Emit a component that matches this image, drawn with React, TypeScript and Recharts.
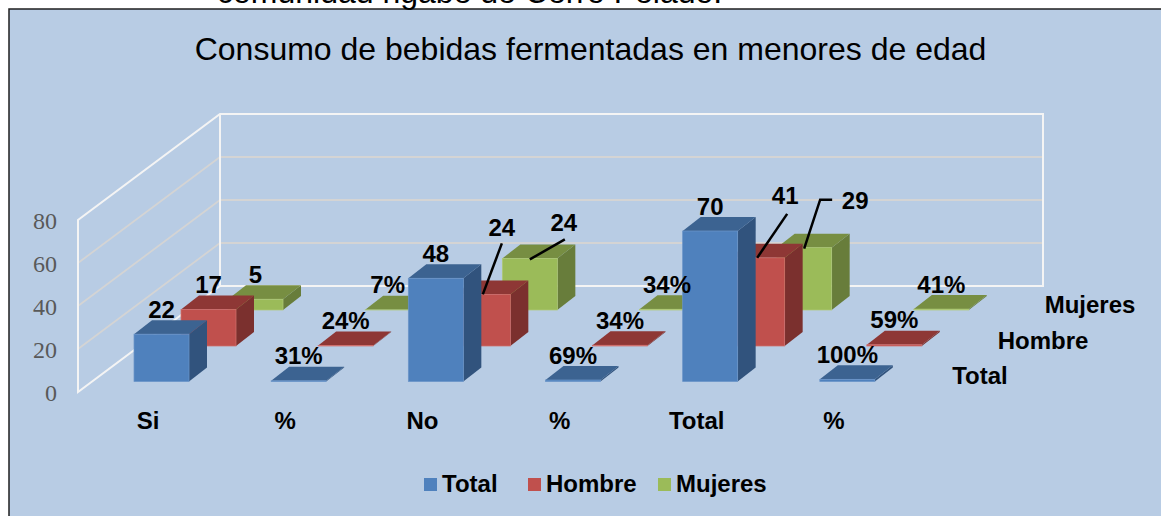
import React from "react";
import { ComposedChart, Bar, XAxis, YAxis, LabelList, Legend, Customized } from "recharts";

const categories = ["Si", "%", "No", "%", "Total", "%"];
const totalValues = [22, 0.31, 48, 0.69, 70, 1];
const hombreValues = [17, 0.24, 24, 0.34, 41, 0.59];
const mujeresValues = [5, 0.07, 24, 0.34, 29, 0.41];
const totalLabels = ["22", "31%", "48", "69%", "70", "100%"];
const hombreLabels = ["17", "24%", "24", "34%", "41", "59%"];
const mujeresLabels = ["5", "7%", "24", "34%", "29", "41%"];
const yTicks = [0, 20, 40, 60, 80];
const titleText = "Consumo de bebidas fermentadas en menores de edad";
const clippedCaption = "comunidad ngäbe de Cerro Pelado.";

const data = categories.map((c, i) => ({
  category: c,
  Total: totalValues[i],
  Hombre: hombreValues[i],
  Mujeres: mujeresValues[i],
  totalLabel: totalLabels[i],
  hombreLabel: hombreLabels[i],
  mujeresLabel: mujeresLabels[i],
}));

const W = 1161, H = 516;
const PLOT_L = 78, PLOT_T = 220, PLOT_W = 823, PLOT_H = 172;
const WALL_DX = 142, WALL_DY = -106, WALL_RIGHT = 1043;
const DEPTH_X = 18, DEPTH_Y = -14;
const FONT = "'Liberation Sans', Arial, sans-serif";
const LABEL_SIZE = 24;
const LEGEND_H = 30;

const styles = {
  Total: { front: "#4f81bd", top: "#3c6391", side: "#31537d", edge: "#6a94c8", dx: 15, dy: -10.5 },
  Hombre: { front: "#c0504d", top: "#8e3735", side: "#7b302e", edge: "#cf6f6c", dx: 62, dy: -46 },
  Mujeres: { front: "#9bbb59", top: "#778e42", side: "#687d3b", edge: "#afc977", dx: 109, dy: -82 },
};

// per-label tweaks: [dx, dy from the front-top centre of the bar], optional leader line
type Tweak = { x?: number; y?: number; line?: number[][] };
const tweaks: Record<string, Record<number, Tweak>> = {
  Total: {},
  Hombre: {
    2: { x: 19, y: -67, line: [[19, -51], [0, 0]] },
    4: { x: 28, y: -62, line: [[30, -44], [0, 0]] },
  },
  Mujeres: {
    1: { x: -5, y: -25 },
    2: { x: 34, y: -36, line: [[35, -19], [0, 1]] },
    4: { x: 51, y: -47, line: [[28, -48], [16, -48], [0, 1]] },
  },
};

const Box3D = (name: keyof typeof styles) => (props: any) => {
  const s = styles[name];
  const x = props.x + s.dx;
  const y = props.y + s.dy;
  const w = props.width;
  const h = Math.max(props.height, 0);
  const b = y + h;
  return (
    <g>
      <polygon points={`${x + w},${y} ${x + w + DEPTH_X},${y + DEPTH_Y} ${x + w + DEPTH_X},${b + DEPTH_Y} ${x + w},${b}`} fill={s.side} />
      <polygon points={`${x},${y} ${x + DEPTH_X},${y + DEPTH_Y} ${x + w + DEPTH_X},${y + DEPTH_Y} ${x + w},${y}`} fill={s.top} />
      <rect x={x} y={y} width={w} height={h} fill={s.front} stroke={s.edge} strokeWidth={0.75} />
    </g>
  );
};

const BarLabel = (name: keyof typeof styles) => (props: any) => {
  const s = styles[name];
  const t = tweaks[name][props.index] || {};
  const cx = props.x + s.dx + props.width / 2;
  const top = props.y + s.dy;
  const lx = cx + (t.x ?? 0);
  const ly = top + (t.y ?? -25);
  return (
    <g>
      {t.line && (
        <polyline
          points={t.line.map(([a, b]) => `${cx + a},${top + b}`).join(" ")}
          fill="none"
          stroke="#000"
          strokeWidth={2.5}
        />
      )}
      <text x={lx} y={ly} textAnchor="middle" dominantBaseline="central" fontFamily={FONT} fontWeight="bold" fontSize={LABEL_SIZE} fill="#000">
        {props.value}
      </text>
    </g>
  );
};

const yPx = (v: number) => PLOT_T + PLOT_H - (v / 80) * PLOT_H;

const Walls = () => (
  <g>
    <rect x={9} y={9} width={W} height={H} fill="#b8cce4" stroke="#1f1f1f" strokeWidth={1.5} />
    <text x={217} y={3} fontFamily={FONT} fontSize={32} fill="#000">{clippedCaption}</text>
    <text x={590.5} y={60} textAnchor="middle" fontFamily={FONT} fontSize={32} fill="#000">{titleText}</text>
    {yTicks.filter((v) => v > 0 && v < 80).map((v) => (
      <g key={v} stroke="#d4d4d4" strokeWidth={1.8}>
        <line x1={PLOT_L} y1={yPx(v)} x2={PLOT_L + WALL_DX} y2={yPx(v) + WALL_DY} />
        <line x1={PLOT_L + WALL_DX} y1={yPx(v) + WALL_DY} x2={WALL_RIGHT} y2={yPx(v) + WALL_DY} />
      </g>
    ))}
    <polygon
      points={`${PLOT_L},${yPx(0)} ${PLOT_L},${yPx(80)} ${PLOT_L + WALL_DX},${yPx(80) + WALL_DY} ${WALL_RIGHT},${yPx(80) + WALL_DY} ${WALL_RIGHT},${yPx(0) + WALL_DY} ${PLOT_L + WALL_DX},${yPx(0) + WALL_DY}`}
      fill="none"
      stroke="#f4f4f4"
      strokeWidth={2}
    />
    <line x1={PLOT_L + WALL_DX} y1={yPx(80) + WALL_DY} x2={PLOT_L + WALL_DX} y2={yPx(0) + WALL_DY} stroke="#f4f4f4" strokeWidth={2} />
    {[["Mujeres", 1090, 304], ["Hombre", 1043, 340], ["Total", 980, 375]].map(([n, x, y]) => (
      <text key={n as string} x={x as number} y={y as number} textAnchor="middle" dominantBaseline="central" fontFamily={FONT} fontWeight="bold" fontSize={LABEL_SIZE} fill="#000">
        {n}
      </text>
    ))}
  </g>
);

const legendItems: [keyof typeof styles, number][] = [["Total", 424], ["Hombre", 528], ["Mujeres", 658]];
const LegendContent = () => (
  <div style={{ position: "relative", width: W, height: LEGEND_H }}>
    {legendItems.map(([n, x]) => (
      <div key={n} style={{ position: "absolute", left: x, top: 0, display: "flex", alignItems: "center", height: LEGEND_H, fontFamily: FONT, fontWeight: "bold", fontSize: LABEL_SIZE, color: "#000", whiteSpace: "nowrap" }}>
        <span style={{ display: "inline-block", width: 13, height: 13, background: styles[n].front, marginRight: 5 }} />
        {n}
      </div>
    ))}
  </div>
);

export default function App() {
  return (
    <div style={{ position: "absolute", left: 0, top: 0, width: W, height: H, overflow: "hidden", background: "#fff" }}>
      <ComposedChart
        width={W}
        height={H}
        data={data}
        margin={{ top: PLOT_T, left: 8, right: W - PLOT_L - PLOT_W, bottom: H - PLOT_T - PLOT_H - 60 - LEGEND_H }}
        barSize={55}
        barGap={-55}
      >
        <Customized component={Walls} />
        <XAxis dataKey="category" interval={0} axisLine={false} tickLine={false} tickMargin={14} height={60} dx={1.5}
          tick={{ fontFamily: FONT, fontWeight: "bold", fontSize: LABEL_SIZE, fill: "#000" }} />
        <YAxis domain={[0, 80]} ticks={yTicks} width={70} axisLine={false} tickLine={false} tickMargin={15}
          tick={{ fontFamily: "'Liberation Serif', serif", fontSize: 24, fill: "#595959" }} />
        <Legend verticalAlign="bottom" align="left" wrapperStyle={{ left: 0, top: 469, width: W, height: LEGEND_H }} content={LegendContent} />
        <Bar dataKey="Mujeres" isAnimationActive={false} shape={Box3D("Mujeres")} />
        <Bar dataKey="Hombre" isAnimationActive={false} shape={Box3D("Hombre")} />
        <Bar dataKey="Total" isAnimationActive={false} shape={Box3D("Total")} />
        <Bar dataKey="Mujeres" isAnimationActive={false} shape={() => null} legendType="none">
          <LabelList dataKey="mujeresLabel" content={BarLabel("Mujeres")} />
        </Bar>
        <Bar dataKey="Hombre" isAnimationActive={false} shape={() => null} legendType="none">
          <LabelList dataKey="hombreLabel" content={BarLabel("Hombre")} />
        </Bar>
        <Bar dataKey="Total" isAnimationActive={false} shape={() => null} legendType="none">
          <LabelList dataKey="totalLabel" content={BarLabel("Total")} />
        </Bar>
      </ComposedChart>
    </div>
  );
}
